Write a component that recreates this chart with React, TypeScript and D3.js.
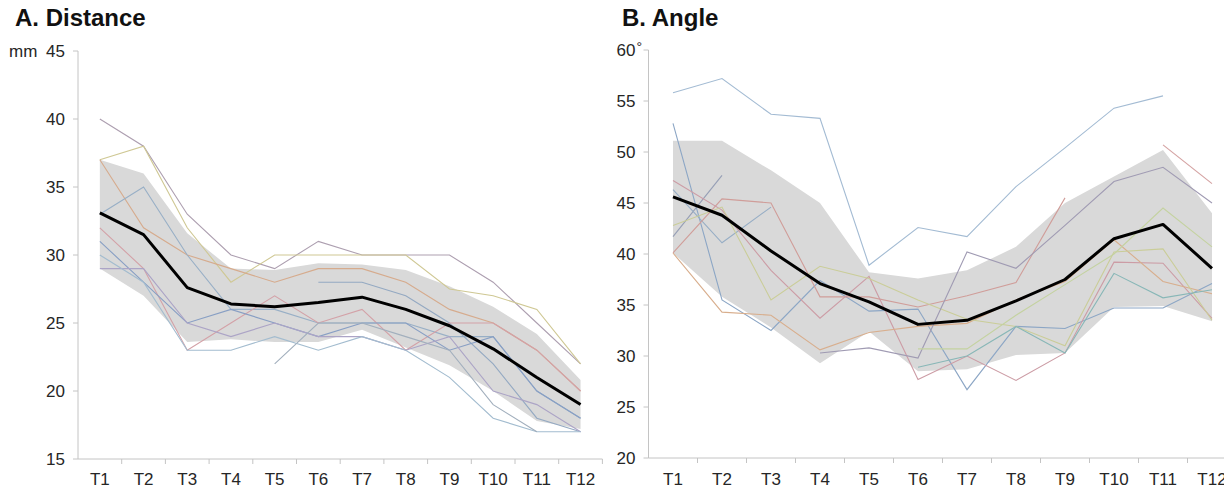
import React, { useEffect, useRef } from 'react';
import * as d3 from 'd3';

type Val = number | null;

const timePoints = ['T1', 'T2', 'T3', 'T4', 'T5', 'T6', 'T7', 'T8', 'T9', 'T10', 'T11', 'T12'];

// A. Distance (mm)
const distTicks = [15, 20, 25, 30, 35, 40, 45];
const distMean = [33.1, 31.5, 27.6, 26.4, 26.2, 26.5, 26.9, 26.0, 24.8, 23.1, 21.0, 19.0];
const distUpper = [37.0, 36.0, 31.6, 29.0, 28.9, 29.4, 29.3, 28.9, 27.7, 26.2, 24.2, 20.8];
const distLower = [29.0, 27.0, 23.6, 23.8, 23.6, 23.6, 24.5, 23.2, 21.9, 20.0, 17.8, 17.2];
const distSubjects: Val[][] = [
  [40, 38, 33, 30, 29, 31, 30, 30, 30, 28, 25, 22],
  [37, 38, 32, 28, 30, 30, 30, 30, 27.5, 27, 26, 22],
  [37, 32, 30, 29, 28, 29, 29, 28, 26, 25, 23, 20],
  [33, 35, 30, 26, 26, 25, 25, 25, 24, 24, 20, 18],
  [null, null, null, null, null, 28, 28, 27, 25, 22, 18, 17],
  [32, 29, 23, 25, 27, 25, 26, 23, 25, 25, 23, 20],
  [31, 28, 25, 26, 25, 24, 25, 25, 23, 24, 20, 18],
  [29, 29, 25, 24, 25, 24, 24, 23, 24, 20, 19, 17],
  [30, 28, 23, 23, 24, 23, 24, 23, 21, 18, 17, 17],
  [null, null, null, null, 22, 25, 25, 24, 23, 19, 17, null],
];
const distColors = ['#ad9fb0', '#cfc894', '#d6ab8d', '#98afc6', '#94a9c2', '#d3a1a7', '#889fc4', '#aca4c6', '#a3bccf', '#a2afbd'];

// B. Angle (degrees)
const angTicks = [20, 25, 30, 35, 40, 45, 50, 55, 60];
const angMean = [45.6, 43.8, 40.3, 37.1, 35.3, 33.1, 33.5, 35.4, 37.5, 41.5, 42.9, 38.6];
const angUpper = [51.1, 51.1, 48.2, 45.0, 38.2, 37.6, 38.4, 40.7, 45.0, 47.6, 50.2, 44.0];
const angLower = [40.1, 35.8, 32.8, 29.3, 32.4, 28.5, 28.7, 30.1, 30.3, 34.8, 34.9, 33.4];
const angSubjects: Val[][] = [
  [55.8, 57.2, 53.7, 53.3, 38.9, 42.6, 41.7, 46.6, 50.4, 54.3, 55.5, null],
  [52.8, 35.5, 32.5, 37.4, 34.4, 34.6, 26.7, 32.9, 32.7, 34.7, 34.7, 37.1],
  [41.7, 47.7, null, null, null, null, null, null, null, null, null, null],
  [46.3, 41.1, 44.6, null, null, null, null, null, null, null, null, null],
  [40.1, 45.4, 45.0, 35.8, 35.8, 34.8, 35.9, 37.2, 45.5, null, null, null],
  [47.2, 44.3, 38.4, 33.7, 37.8, 27.7, 30.0, 27.6, 30.3, 39.2, 39.1, 33.7],
  [40.1, 34.3, 34.0, 30.6, 32.3, 32.9, 33.2, 35.5, 37.3, 41.4, 37.3, 36.1],
  [42.8, 44.6, 35.5, 38.8, 37.6, 35.5, 33.6, 32.9, 31.0, 40.2, 40.5, 33.5],
  [null, null, null, 30.3, 30.8, 29.8, 40.2, 38.6, 42.8, 47.1, 48.5, 45.0],
  [null, null, null, null, null, 28.9, 30.0, 32.9, 30.3, 38.1, 35.7, 36.5],
  [null, null, null, null, null, 30.7, 30.7, 34.0, 37.0, 40.0, 44.5, 40.7],
  [null, null, null, null, null, null, null, null, null, null, 50.7, 46.9],
];
const angColors = ['#a3bbd3', '#8ca6c5', '#959eb5', '#96adc5', '#d09d99', '#cc9ca5', '#d8ae8d', '#cacd98', '#a09bb3', '#88b7b7', '#c4d2a0', '#d4a1a1'];

interface PanelCfg {
  title: string;
  titleX: number;
  axisX: number;
  step: number;
  yDomain: [number, number];
  yRange: [number, number];
  ticks: number[];
  mean: number[];
  upper: number[];
  lower: number[];
  subjects: Val[][];
  colors: string[];
  unit: 'mm' | 'deg';
}

const App: React.FC = () => {
  const width = 1224;
  const height = 490;
  const svgRef = useRef<SVGSVGElement>(null);

  useEffect(() => {
    if (!svgRef.current) return;
    const svg = d3.select(svgRef.current);
    svg.selectAll('*').remove();

    const font = '"Liberation Sans", Arial, sans-serif';
    const axisColor = '#c4c4c4';
    const textColor = '#262626';

    const panels: PanelCfg[] = [
      {
        title: 'A. Distance', titleX: 15, axisX: 78, step: 43.7,
        yDomain: [15, 45], yRange: [459, 51], ticks: distTicks,
        mean: distMean, upper: distUpper, lower: distLower,
        subjects: distSubjects, colors: distColors, unit: 'mm',
      },
      {
        title: 'B. Angle', titleX: 622, axisX: 648.5, step: 49,
        yDomain: [20, 60], yRange: [458, 50], ticks: angTicks,
        mean: angMean, upper: angUpper, lower: angLower,
        subjects: angSubjects, colors: angColors, unit: 'deg',
      },
    ];

    panels.forEach((p) => {
      const g = svg.append('g');

      const x = d3.scaleBand<string>()
        .domain(timePoints)
        .range([p.axisX, p.axisX + p.step * timePoints.length])
        .padding(0);
      const cx = (i: number) => (x(timePoints[i]) as number) + x.bandwidth() / 2;

      const y = d3.scaleLinear().domain(p.yDomain).range(p.yRange);
      const y0 = y(p.yDomain[0]);
      const yTop = y(p.yDomain[1]);

      // title
      g.append('text')
        .attr('x', p.titleX)
        .attr('y', 26)
        .attr('font-family', font)
        .attr('font-weight', 'bold')
        .attr('font-size', 24)
        .attr('fill', '#111')
        .text(p.title);

      // SD band
      const area = d3.area<number>()
        .x((_, i) => cx(i))
        .y0((_, i) => y(p.lower[i]))
        .y1((d) => y(d));
      g.append('path')
        .datum(p.upper)
        .attr('d', area)
        .attr('fill', '#d9d9d9');

      // axes
      g.append('line')
        .attr('x1', p.axisX).attr('x2', p.axisX)
        .attr('y1', yTop).attr('y2', y0)
        .attr('stroke', axisColor).attr('stroke-width', 1);
      g.append('line')
        .attr('x1', p.axisX).attr('x2', x.range()[1])
        .attr('y1', y0).attr('y2', y0)
        .attr('stroke', axisColor).attr('stroke-width', 1);

      p.ticks.forEach((t) => {
        g.append('line')
          .attr('x1', p.axisX - 5).attr('x2', p.axisX)
          .attr('y1', y(t)).attr('y2', y(t))
          .attr('stroke', axisColor);
        g.append('text')
          .attr('x', p.axisX - 13)
          .attr('y', y(t) + 6)
          .attr('text-anchor', 'end')
          .attr('font-family', font)
          .attr('font-size', 17)
          .attr('fill', textColor)
          .text(String(t));
      });

      if (p.unit === 'mm') {
        g.append('text')
          .attr('x', 9)
          .attr('y', y(p.yDomain[1]) + 6)
          .attr('font-family', font)
          .attr('font-size', 17)
          .attr('fill', textColor)
          .text('mm');
      } else {
        g.append('text')
          .attr('x', p.axisX - 12)
          .attr('y', y(p.yDomain[1]) + 2)
          .attr('font-family', font)
          .attr('font-size', 14)
          .attr('fill', textColor)
          .text('°');
      }

      timePoints.forEach((tp, i) => {
        const bx = x(tp) as number;
        g.append('line')
          .attr('x1', bx + x.bandwidth()).attr('x2', bx + x.bandwidth())
          .attr('y1', y0).attr('y2', y0 + 5)
          .attr('stroke', axisColor);
        g.append('text')
          .attr('x', cx(i))
          .attr('y', 485)
          .attr('text-anchor', 'middle')
          .attr('font-family', font)
          .attr('font-size', 17)
          .attr('fill', textColor)
          .text(tp);
      });

      // individual subjects
      const line = d3.line<Val>()
        .defined((d) => d !== null)
        .x((_, i) => cx(i))
        .y((d) => y(d as number));
      p.subjects.forEach((s, k) => {
        g.append('path')
          .datum(s)
          .attr('d', line)
          .attr('fill', 'none')
          .attr('stroke', p.colors[k % p.colors.length])
          .attr('stroke-width', 1.1);
      });

      // mean
      g.append('path')
        .datum(p.mean as Val[])
        .attr('d', line)
        .attr('fill', 'none')
        .attr('stroke', '#000')
        .attr('stroke-width', 3)
        .attr('stroke-linejoin', 'round');
    });
  }, []);

  return (
    <svg
      ref={svgRef}
      width={width}
      height={height}
      style={{ position: 'absolute', left: 0, top: 0, background: '#fff' }}
    />
  );
};

export default App;
